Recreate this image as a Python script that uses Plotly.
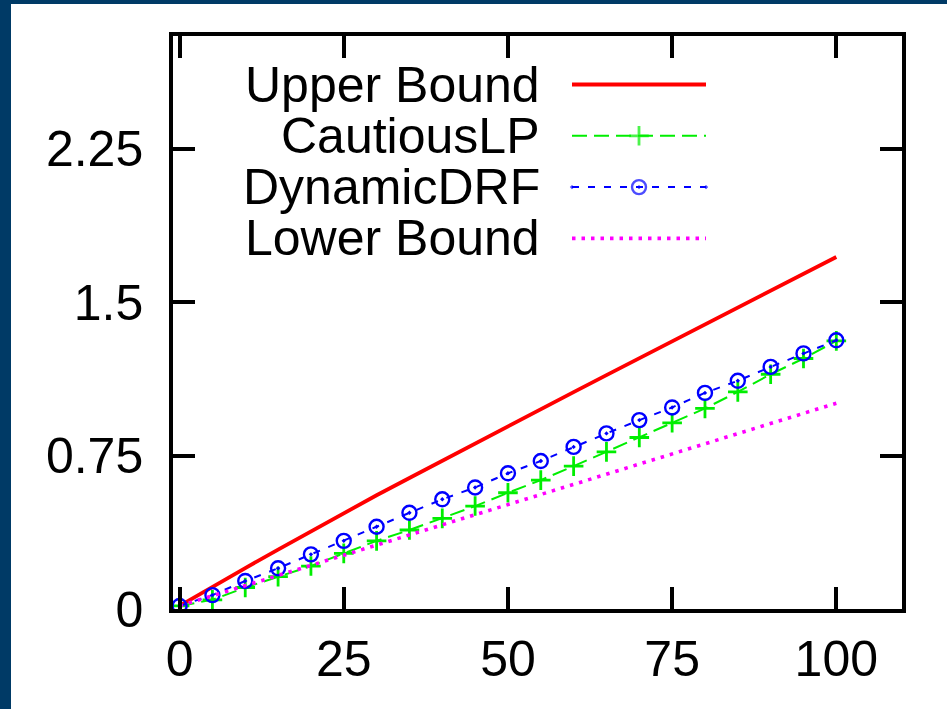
import plotly.graph_objects as go

# ---- data ----
x_vals = [0, 5, 10, 15, 20, 25, 30, 35, 40, 45, 50, 55, 60, 65, 70, 75, 80, 85, 90, 95, 100]
upper_bound = [0.015, 0.11, 0.20, 0.29, 0.38, 0.47, 0.556, 0.64, 0.725, 0.81, 0.893,
               0.977, 1.06, 1.143, 1.226, 1.31, 1.392, 1.474, 1.556, 1.638, 1.72]
cautious_lp = [0.015, 0.045, 0.105, 0.158, 0.21, 0.272, 0.333, 0.386, 0.443, 0.503, 0.568,
               0.63, 0.698, 0.768, 0.838, 0.91, 0.98, 1.061, 1.147, 1.224, 1.31]
dynamic_drf = [0.015, 0.068, 0.137, 0.199, 0.267, 0.333, 0.402, 0.47, 0.536, 0.594, 0.663,
               0.723, 0.792, 0.858, 0.923, 0.985, 1.056, 1.115, 1.183, 1.249, 1.313]
lower_bound = [0.015, 0.065, 0.114, 0.164, 0.213, 0.263, 0.312, 0.362, 0.411, 0.461, 0.51,
               0.56, 0.609, 0.659, 0.708, 0.758, 0.807, 0.857, 0.906, 0.956, 1.005]
series_names = ["Upper Bound", "CautiousLP", "DynamicDRF", "Lower Bound"]
x_ticks = [0, 25, 50, 75, 100]
y_ticks = [0, 0.75, 1.5, 2.25]
y_tick_text = ["0", "0.75", "1.5", "2.25"]

# ---- styles ----
FONT = "Liberation Sans, Arial, sans-serif"
FS = 50
W, H = 947, 709
L, R, T, B = 173, 45, 36, 100
PW, PH = W - L - R, H - T - B
RED, GREEN, BLUE, MAG = "#ff0000", "#00ee00", "#0000ff", "#ff00ff"
styles = [
    dict(mode="lines", line=dict(color=RED, width=3.8)),
    dict(mode="lines+markers", line=dict(color=GREEN, width=2, dash="15px,7px"),
         marker=dict(symbol="cross-thin-open", size=14, line=dict(color=GREEN, width=2.8))),
    dict(mode="lines+markers", line=dict(color=BLUE, width=2, dash="7px,9px"),
         marker=dict(symbol="circle-open-dot", size=14, color=BLUE, line=dict(color=BLUE, width=2.4))),
    dict(mode="lines", line=dict(color=MAG, width=3.6, dash="3.5px,6px")),
]
series = [upper_bound, cautious_lp, dynamic_drf, lower_bound]

fig = go.Figure()
for name, ys, st in zip(series_names, series, styles):
    fig.add_trace(go.Scatter(x=x_vals, y=ys, name=name, showlegend=False, **st))

# ---- manual legend (text left, sample right), pixel coords on overlay axes ----
leg_top, leg_step = 84.5, 51.3
leg_text_right = 542
leg_x0, leg_x1 = 572, 706
for i, (name, st) in enumerate(zip(series_names, styles)):
    ry = leg_top + i * leg_step
    st2 = dict(st)
    if "marker" in st2:
        m = dict(st2["marker"])
        m["size"] = [0, m["size"], 0]
        st2["marker"] = m
    fig.add_trace(go.Scatter(x=[leg_x0, (leg_x0 + leg_x1) / 2, leg_x1], y=[ry, ry, ry],
                             xaxis="x2", yaxis="y2", showlegend=False, hoverinfo="skip", **st2))
    fig.add_annotation(x=leg_text_right, y=ry, xref="x2", yref="y2", text=name,
                       showarrow=False, xanchor="right", yanchor="middle",
                       font=dict(family=FONT, size=FS, color="black"))

# ---- dark border strips (top and left) ----
def px_x(p):
    return (p - L) / PW

def px_y(p):
    return (H - B - p) / PH

NAVY = "#003a66"
fig.add_shape(type="rect", xref="paper", yref="paper", x0=px_x(0), x1=px_x(11),
              y0=px_y(H), y1=px_y(0), fillcolor=NAVY, line_width=0, layer="below")
fig.add_shape(type="rect", xref="paper", yref="paper", x0=px_x(0), x1=px_x(W),
              y0=px_y(4), y1=px_y(0), fillcolor=NAVY, line_width=0, layer="below")

axis_common = dict(showline=True, linecolor="black", linewidth=3.5, mirror="ticks",
                   ticks="inside", ticklen=22, tickwidth=3.5, tickcolor="black",
                   showgrid=False, zeroline=False,
                   tickfont=dict(family=FONT, size=FS, color="black"))

fig.update_layout(
    width=W, height=H,
    margin=dict(l=L, r=R, t=T, b=B, pad=0),
    paper_bgcolor="white", plot_bgcolor="white",
    xaxis=dict(range=[-1, 110], tickvals=x_ticks, ticklabelstandoff=3, **axis_common),
    yaxis=dict(range=[0, 2.8], tickvals=y_ticks, ticktext=y_tick_text, ticklabelstandoff=16, **axis_common),
    xaxis2=dict(range=[L, L + PW], overlaying="x", visible=False, fixedrange=True),
    yaxis2=dict(range=[T + PH, T], overlaying="y", visible=False, fixedrange=True),
    showlegend=False,
)

fig.write_html("out.html", config={"displayModeBar": False},
               post_script="document.body.style.margin='0';document.body.style.overflow='hidden';")
